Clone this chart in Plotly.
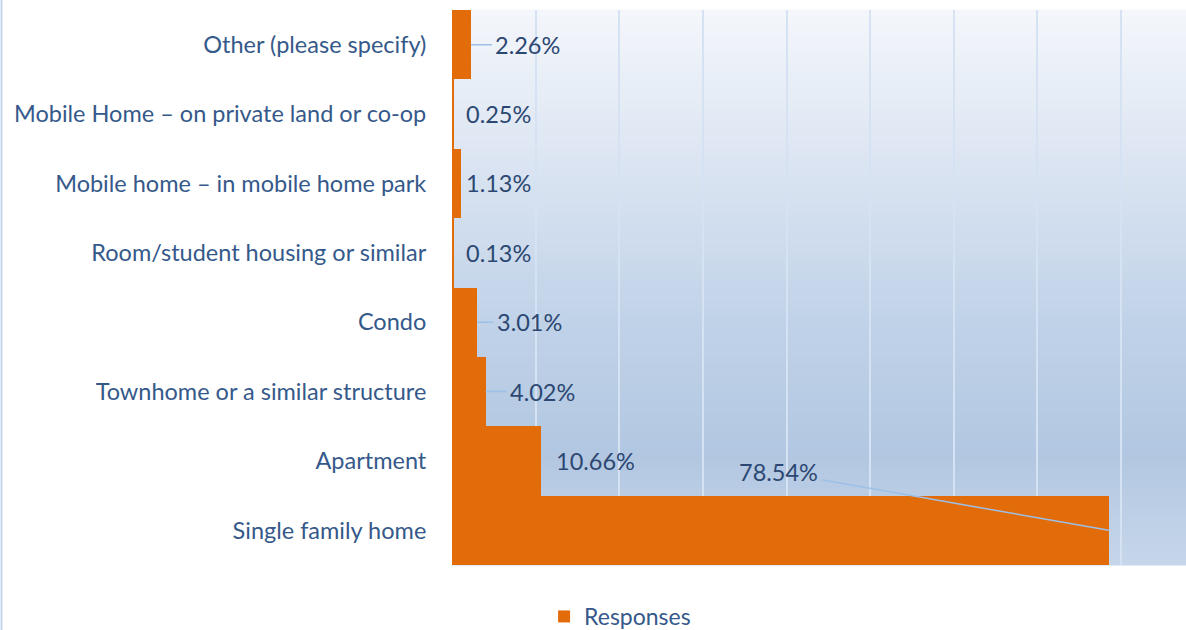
import plotly.graph_objects as go

categories = ["Single family home", "Apartment", "Townhome or a similar structure", "Condo",
              "Room/student housing or similar", "Mobile home \u2013 in mobile home park",
              "Mobile Home \u2013 on private land or co-op", "Other (please specify)"]
values = [78.54, 10.66, 4.02, 3.01, 0.13, 1.13, 0.25, 2.26]
labels = ["78.54%", "10.66%", "4.02%", "3.01%", "0.13%", "1.13%", "0.25%", "2.26%"]
series_name = "Responses"

# label placement style (pixel offsets of label centre from bar end, leader line on/off)
label_ax = [-330, 54, 57, 52, 45, 37, 44, 57]
label_ay = [-58, 0, 0, 0, 0, 0, 0, 0]
leader = [True, False, True, True, False, False, False, True]

BAR = "#E36C0A"
TXT = "#35598A"
LBL = "#2C4872"
FONT = "Lato"
FS = 23.5

fig = go.Figure()
fig.add_trace(go.Bar(
    y=categories, x=values, orientation="h", name=series_name,
    marker=dict(color=BAR, line=dict(width=0)), width=1.0,
    showlegend=True,
))

# background gradient bands (style only)
stops = [(0.0, (0xF4, 0xF7, 0xFB)), (0.3, (0xD9, 0xE3, 0xF1)), (0.57, (0xC0, 0xD2, 0xE8)),
         (0.80, (0xB2, 0xC7, 0xE1)), (1.0, (0xC6, 0xD6, 0xEA))]

def col_at(t):
    for (t0, c0), (t1, c1) in zip(stops[:-1], stops[1:]):
        if t0 <= t <= t1:
            f = (t - t0) / (t1 - t0) if t1 > t0 else 0
            return "rgb(%d,%d,%d)" % tuple(round(a + (b - a) * f) for a, b in zip(c0, c1))
    return "rgb(%d,%d,%d)" % stops[-1][1]

shapes = []
N = 80
for i in range(N):
    t = (i + 0.5) / N
    shapes.append(dict(type="rect", xref="x domain", yref="y domain",
                       x0=0, x1=1, y0=1 - (i + 1) / N - 0.001, y1=1 - i / N + 0.001,
                       fillcolor=col_at(t), line=dict(width=0), layer="below"))
# outer chart border (left edge)
shapes.append(dict(type="line", xref="paper", yref="paper", x0=-452/734 + 1.5/734, x1=-452/734 + 1.5/734,
                   y0=-65/555, y1=1 + 10/555, line=dict(color="#C5D7EE", width=2)))

annotations = []
for c, v, lab, ax, ay, ld in zip(categories, values, labels, label_ax, label_ay, leader):
    annotations.append(dict(
        x=v, y=c, xref="x", yref="y", text=lab,
        showarrow=True, ax=ax, ay=ay, axref="pixel", ayref="pixel",
        arrowhead=0, arrowwidth=1.5, arrowcolor="#9CC0E8" if ld else "rgba(0,0,0,0)",
        standoff=0, startstandoff=2,
        font=dict(family=FONT, size=FS, color=LBL),
    ))

fig.update_layout(
    width=1186, height=630,
    margin=dict(l=452, r=0, t=10, b=65, autoexpand=False),
    paper_bgcolor="white", plot_bgcolor="#DCE6F2",
    font=dict(family=FONT, size=FS, color=TXT),
    bargap=0,
    shapes=shapes,
    annotations=annotations,
    showlegend=True,
    legend=dict(orientation="h", x=0.229, xanchor="center", xref="paper", y=-0.054, yanchor="top",
                font=dict(family=FONT, size=FS - 0.5, color=TXT), bgcolor="rgba(0,0,0,0)",
                itemwidth=30),
    xaxis=dict(range=[0, 734 / 8.3625], showgrid=True, gridcolor="#D5E2F3", gridwidth=2,
               dtick=10, tick0=0, showticklabels=False, zeroline=False, showline=False,
               fixedrange=True),
    yaxis=dict(categoryorder="array", categoryarray=categories, showgrid=False,
               ticks="outside", ticklen=20, tickcolor="rgba(0,0,0,0)",
               tickfont=dict(family=FONT, size=FS, color=TXT), showline=False, zeroline=False,
               fixedrange=True),
)

fig.write_html("out.html", config={"displayModeBar": False},
               post_script="document.body.style.margin='0';document.body.style.padding='0';")
